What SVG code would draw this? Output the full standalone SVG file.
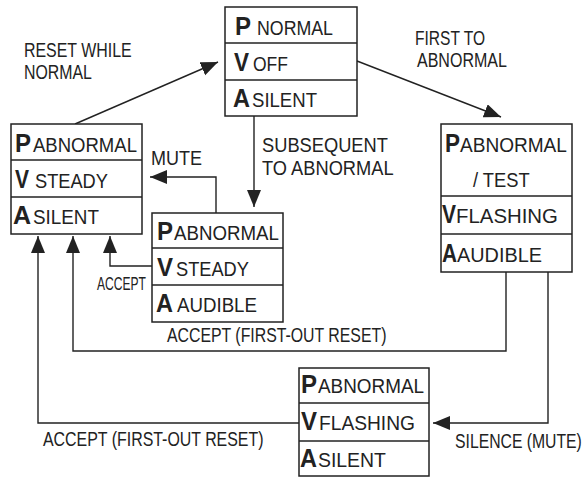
<svg xmlns="http://www.w3.org/2000/svg" width="586" height="477" viewBox="0 0 586 477">
<style>
.box{fill:#fff;stroke:#222;stroke-width:1.5}
.div{stroke:#222;stroke-width:1.3}
.t{font-family:"Liberation Sans",Arial,sans-serif;font-size:20.5px;fill:#222}
.s{font-family:"Liberation Sans",Arial,sans-serif;font-size:18px;fill:#222}
.b{font-family:"Liberation Sans",Arial,sans-serif;font-size:25px;font-weight:bold;fill:#222}
.c{fill:none;stroke:#222;stroke-width:1.4}
</style>
<defs>
<marker id="ah" markerUnits="userSpaceOnUse" markerWidth="18" markerHeight="15" refX="17" refY="7" orient="auto">
<path d="M0,0 L17,7 L0,14 z" fill="#222"/>
</marker>
</defs>
<rect width="586" height="477" fill="#fff"/>
<g id="connectors">
<line class="c" x1="75" y1="124" x2="218" y2="62" marker-end="url(#ah)"/>
<line class="c" x1="357" y1="61" x2="501" y2="117" marker-end="url(#ah)"/>
<line class="c" x1="254" y1="116" x2="254" y2="207" marker-end="url(#ah)"/>
<polyline class="c" points="216,213 216,177 150,177" marker-end="url(#ah)"/>
<polyline class="c" points="152,266 110,266 110,236" marker-end="url(#ah)"/>
<polyline class="c" points="506,272 506,351 73,351 73,236" marker-end="url(#ah)"/>
<polyline class="c" points="548,272 548,423 433,423" marker-end="url(#ah)"/>
<polyline class="c" points="299,423 38,423 38,236" marker-end="url(#ah)"/>
<text class="t" transform="translate(24,57) scale(0.777,1)">RESET WHILE</text>
<text class="t" transform="translate(24,79) scale(0.775,1)">NORMAL</text>
<text class="t" transform="translate(415,45) scale(0.76,1)">FIRST TO</text>
<text class="t" transform="translate(417,67) scale(0.782,1)">ABNORMAL</text>
<text class="t" transform="translate(262,152) scale(0.892,1)">SUBSEQUENT</text>
<text class="t" transform="translate(262,175) scale(0.891,1)">TO ABNORMAL</text>
<text class="t" transform="translate(151,165) scale(0.878,1)">MUTE</text>
<text class="s" transform="translate(97,290) scale(0.671,1)">ACCEPT</text>
<text class="t" transform="translate(167,342) scale(0.773,1)">ACCEPT (FIRST-OUT RESET)</text>
<text class="t" transform="translate(43,446) scale(0.777,1)">ACCEPT (FIRST-OUT RESET)</text>
<text class="t" transform="translate(455,448) scale(0.769,1)">SILENCE (MUTE)</text>
</g>
<g id="normal">
<rect class="box" x="225" y="7" width="132" height="109"/>
<line class="div" x1="225" y1="43" x2="357" y2="43"/>
<line class="div" x1="225" y1="80" x2="357" y2="80"/>
<text class="b" transform="translate(235,35) scale(0.96,1)">P</text>
<text class="t" transform="translate(257,35) scale(0.867,1)">NORMAL</text>
<text class="b" transform="translate(234,71) scale(0.9,1)">V</text>
<text class="t" transform="translate(253,71) scale(0.854,1)">OFF</text>
<text class="b" transform="translate(233,107) scale(0.94,1)">A</text>
<text class="t" transform="translate(252,107) scale(0.906,1)">SILENT</text>
</g>
<g id="steady-silent">
<rect class="box" x="11" y="124" width="131" height="110"/>
<line class="div" x1="11" y1="160" x2="142" y2="160"/>
<line class="div" x1="11" y1="197" x2="142" y2="197"/>
<text class="b" transform="translate(15,152) scale(0.96,1)">P</text>
<text class="t" transform="translate(33,152) scale(0.904,1)">ABNORMAL</text>
<text class="b" transform="translate(15,188) scale(0.84,1)">V</text>
<text class="t" transform="translate(35,188) scale(0.89,1)">STEADY</text>
<text class="b" transform="translate(13,224) scale(1,1)">A</text>
<text class="t" transform="translate(33,224) scale(0.919,1)">SILENT</text>
</g>
<g id="steady-audible">
<rect class="box" x="152" y="213" width="131" height="109"/>
<line class="div" x1="152" y1="248" x2="283" y2="248"/>
<line class="div" x1="152" y1="285" x2="283" y2="285"/>
<text class="b" transform="translate(157,240) scale(0.96,1)">P</text>
<text class="t" transform="translate(174,240) scale(0.913,1)">ABNORMAL</text>
<text class="b" transform="translate(157,276) scale(0.96,1)">V</text>
<text class="t" transform="translate(176,276) scale(0.89,1)">STEADY</text>
<text class="b" transform="translate(156,312) scale(0.94,1)">A</text>
<text class="t" transform="translate(177,312) scale(0.912,1)">AUDIBLE</text>
</g>
<g id="flashing-audible">
<rect class="box" x="441" y="124" width="131" height="148"/>
<line class="div" x1="441" y1="196" x2="572" y2="196"/>
<line class="div" x1="441" y1="234" x2="572" y2="234"/>
<text class="b" transform="translate(445,152) scale(0.9,1)">P</text>
<text class="t" transform="translate(460,152) scale(0.93,1)">ABNORMAL</text>
<text class="t" transform="translate(473,187) scale(0.893,1)">/ TEST</text>
<text class="b" transform="translate(442,223) scale(0.84,1)">V</text>
<text class="t" transform="translate(456,223) scale(0.995,1)">FLASHING</text>
<text class="b" transform="translate(442,262) scale(0.83,1)">A</text>
<text class="t" transform="translate(457,262) scale(0.969,1)">AUDIBLE</text>
</g>
<g id="flashing-silent">
<rect class="box" x="299" y="368" width="130" height="108"/>
<line class="div" x1="299" y1="403" x2="429" y2="403"/>
<line class="div" x1="299" y1="441" x2="429" y2="441"/>
<text class="b" transform="translate(301,393) scale(0.96,1)">P</text>
<text class="t" transform="translate(318,393) scale(0.922,1)">ABNORMAL</text>
<text class="b" transform="translate(301,430) scale(0.96,1)">V</text>
<text class="t" transform="translate(319,430) scale(0.936,1)">FLASHING</text>
<text class="b" transform="translate(300,467) scale(0.94,1)">A</text>
<text class="t" transform="translate(318,467) scale(0.947,1)">SILENT</text>
</g>
</svg>
